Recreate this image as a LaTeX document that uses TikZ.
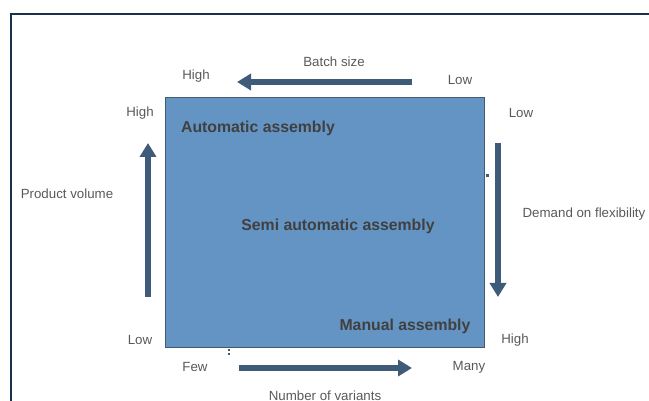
\documentclass[tikz,border=0pt]{standalone}
\usepackage{fontspec}
\setmainfont{Liberation Sans}
\usetikzlibrary{arrows.meta}
\definecolor{boxfill}{RGB}{100,148,196}
\definecolor{boxline}{RGB}{70,90,110}
\definecolor{arrowc}{RGB}{62,92,122}
\definecolor{labelc}{RGB}{89,89,89}
\definecolor{boxtext}{RGB}{64,64,64}
\definecolor{framec}{RGB}{25,50,75}
\begin{document}
\begin{tikzpicture}[x=1pt,y=-1pt,
  lbl/.style={text=labelc,font=\fontsize{13.3}{15}\selectfont,inner sep=0pt},
  boxlbl/.style={text=boxtext,font=\fontsize{15.8}{18}\selectfont\bfseries,inner sep=0pt},
  bigarrow/.style={draw=arrowc,line width=6pt,-{Triangle[width=16pt,length=14pt]}},
  dotc/.style={fill=arrowc,draw=none}]
\useasboundingbox (0,0) rectangle (649,401);
% frame
\draw[framec,line width=1.5pt] (649,14) -- (11,14) -- (11,401);
% main box
\node[draw=boxline,line width=0.6pt,fill=boxfill,minimum width=319pt,minimum height=250pt,inner sep=0pt,anchor=north west] (box) at (165,97) {};
\node[boxlbl] (auto) at (258,128) {Automatic assembly};
\node[boxlbl] (semi) at (338,226) {Semi automatic assembly};
\node[boxlbl] (manual) at (405,326) {Manual assembly};
% arrows
\coordinate (tA) at (412,82); \coordinate (tB) at (237,82);
\coordinate (lA) at (148,297); \coordinate (lB) at (148,143);
\coordinate (rA) at (498,143); \coordinate (rB) at (498,297);
\coordinate (bA) at (239,368); \coordinate (bB) at (412,368);
\draw[bigarrow] (tA) -- (tB);
\draw[bigarrow] (lA) -- (lB);
\draw[bigarrow] (rA) -- (rB);
\draw[bigarrow] (bA) -- (bB);
% labels
\node[lbl] (batch) at (334,62) {Batch size};
\node[lbl] (thigh) at (196,76) {High};
\node[lbl] (tlow) at (460,80) {Low};
\node[lbl] (lhigh) at (140,113) {High};
\node[lbl] (llow) at (140,340) {Low};
\node[lbl] (rlow) at (521,113) {Low};
\node[lbl] (rhigh) at (515,340) {High};
\node[lbl] (pv) at (67,194) {Product volume};
\node[lbl] (df) at (584,214) {Demand on flexibility};
\node[lbl] (few) at (195,367) {Few};
\node[lbl] (many) at (469,367) {Many};
\node[lbl] (nv) at (325,396) {Number of variants};
% small marks
\fill[dotc] (486,174) rectangle (489,177);
\fill[dotc] (228,349) rectangle (230,351);
\fill[dotc] (228,353) rectangle (230,355);
\end{tikzpicture}
\end{document}
